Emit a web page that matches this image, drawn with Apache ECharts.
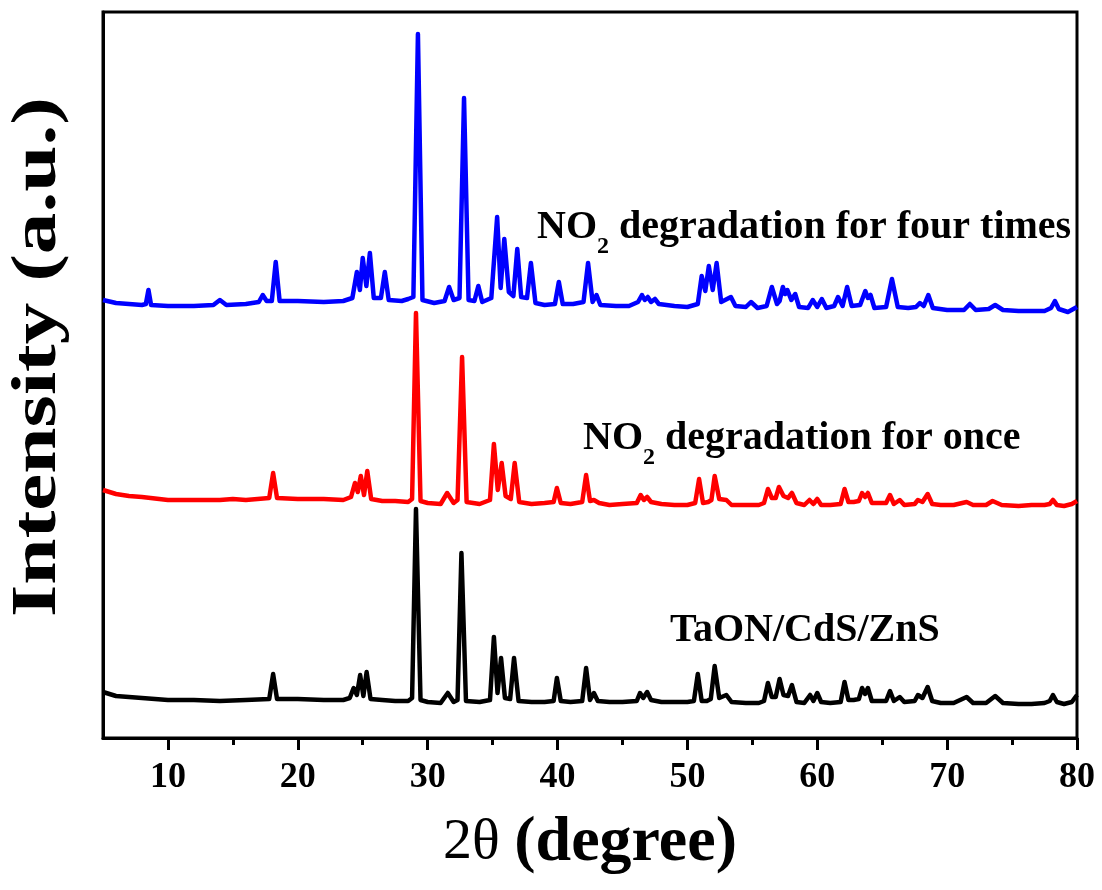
<!DOCTYPE html>
<html>
<head>
<meta charset="utf-8">
<title>XRD patterns</title>
<script src="https://cdn.jsdelivr.net/npm/echarts@6/dist/echarts.min.js"></script>
<style>
  html, body { margin: 0; padding: 0; background: #fff; }
  #chart { width: 1102px; height: 890px; }
</style>
</head>
<body>
<div id="chart"></div>
<script>
// x tick labels (2theta) and minor ticks
const xMajorTicks = [10, 20, 30, 40, 50, 60, 70, 80];
const xMinorTicks = [15, 25, 35, 45, 55, 65, 75];

// series names
const seriesNames = ['TaON/CdS/ZnS', 'NO2 degradation for once', 'NO2 degradation for four times'];

// [2theta, intensity (a.u., already offset)]
const fresh = [
  [5, 46], [6, 42], [7, 41], [8, 40], [10, 38], [12, 38], [14, 37], [16, 38], [17.8, 39],
  [18.1, 64], [18.4, 39], [20, 39], [22, 38], [23.5, 38], [24.0, 40], [24.3, 50], [24.55, 43],
  [24.8, 63], [25.05, 42], [25.3, 66], [25.6, 39], [26.5, 38], [27.5, 37], [28.5, 37], [28.8, 40],
  [29.1, 229], [29.45, 38], [30, 36], [31, 35], [31.55, 45], [32, 36], [32.3, 38], [32.6, 185],
  [32.95, 37], [34, 36], [34.8, 38], [35.1, 101], [35.38, 45], [35.65, 80], [35.95, 40], [36.35, 39],
  [36.65, 80], [37.0, 37], [38, 36], [39, 36], [39.7, 37], [39.95, 60], [40.25, 37], [41, 36],
  [41.9, 37], [42.2, 70], [42.5, 38], [42.8, 45], [43.1, 37], [44, 36], [45, 36], [46.1, 37],
  [46.35, 45], [46.6, 40], [46.9, 46], [47.2, 38], [48, 36], [49, 36], [50, 36], [50.5, 37],
  [50.8, 64], [51.1, 37], [51.5, 37], [51.8, 39], [52.1, 72], [52.45, 40], [53.0, 43], [53.4, 36],
  [54.5, 35], [55.5, 35], [55.9, 37], [56.2, 55], [56.5, 41], [56.8, 41], [57.1, 59], [57.4, 43],
  [57.75, 42], [58.05, 53], [58.4, 36], [59.0, 35], [59.45, 43], [59.7, 37], [60.0, 45], [60.3, 36],
  [61, 35], [61.8, 36], [62.1, 56], [62.4, 38], [62.8, 38], [63.2, 39], [63.45, 50], [63.68, 44],
  [63.9, 50], [64.2, 37], [65.3, 37], [65.6, 47], [65.9, 37], [66.35, 41], [66.7, 36], [67.5, 37],
  [67.75, 43], [68.1, 40], [68.5, 51], [68.85, 37], [69.5, 35], [70.5, 35], [71.5, 41], [72, 35],
  [73, 35], [73.7, 42], [74.3, 35], [75.5, 34], [76.5, 34], [77.5, 35], [77.9, 37], [78.15, 43],
  [78.45, 36], [79, 34], [79.6, 36], [80, 43]
];

const once = [
  [5, 248], [6, 244], [7, 242], [8, 241], [10, 238], [12, 238], [14, 238], [15, 239], [16, 238],
  [17.8, 240], [18.1, 265], [18.4, 240], [20, 239], [22, 239], [23.5, 238], [24.1, 241], [24.4, 255],
  [24.62, 246], [24.85, 262], [25.1, 243], [25.35, 267], [25.65, 239], [26.5, 237], [27.5, 237],
  [28.5, 236], [28.8, 239], [29.1, 425], [29.45, 237], [30, 235], [31, 234], [31.5, 245], [32, 235],
  [32.3, 238], [32.65, 381], [33, 236], [34, 234], [34.8, 238], [35.1, 294], [35.4, 248], [35.7, 275],
  [36.0, 242], [36.4, 239], [36.7, 275], [37.05, 236], [38, 234], [39, 235], [39.7, 236], [39.95, 250],
  [40.25, 235], [41, 234], [41.9, 236], [42.2, 263], [42.5, 237], [42.8, 238], [43.2, 235], [44, 233],
  [45, 234], [46.1, 235], [46.4, 243], [46.65, 238], [46.9, 241], [47.2, 236], [48, 234], [49, 233],
  [50, 233], [50.6, 235], [50.9, 259], [51.2, 235], [51.6, 236], [51.85, 238], [52.1, 262], [52.45, 239],
  [53.0, 238], [53.4, 233], [54.5, 233], [55.5, 233], [55.9, 235], [56.2, 249], [56.5, 240], [56.8, 240],
  [57.05, 251], [57.4, 242], [57.75, 240], [58.05, 245], [58.4, 235], [59.0, 233], [59.4, 238],
  [59.7, 234], [60.0, 239], [60.3, 233], [61, 233], [61.8, 234], [62.1, 249], [62.4, 236], [62.8, 236],
  [63.2, 237], [63.45, 245], [63.68, 241], [63.9, 245], [64.2, 235], [65.3, 235], [65.6, 243],
  [65.9, 234], [66.35, 238], [66.7, 233], [67.5, 234], [67.75, 238], [68.1, 236], [68.5, 244],
  [68.85, 234], [69.5, 233], [70.5, 233], [71.5, 236], [72, 233], [73, 233], [73.5, 237], [74.2, 233],
  [75.5, 232], [76.5, 233], [77.5, 233], [77.9, 234], [78.15, 238], [78.45, 233], [79, 232],
  [79.6, 234], [80, 237]
];

const fourTimes = [
  [5, 438], [6, 435], [7, 434], [8, 433], [8.3, 434], [8.5, 448], [8.7, 433], [10, 432], [12, 432],
  [13.5, 433], [14.0, 438], [14.5, 433], [16, 434], [17.0, 436], [17.3, 443], [17.6, 437], [18.0, 437],
  [18.3, 476], [18.6, 437], [20, 437], [22, 436], [23.5, 437], [24.2, 440], [24.55, 466], [24.78, 448],
  [25.0, 480], [25.28, 452], [25.55, 485], [25.85, 440], [26.4, 440], [26.7, 466], [27.0, 438], [28, 437],
  [28.5, 439], [28.9, 441], [29.25, 704], [29.6, 438], [30.5, 435], [31.3, 437], [31.65, 451], [32.0, 438],
  [32.45, 440], [32.8, 640], [33.15, 438], [33.6, 437], [33.9, 452], [34.2, 436], [34.9, 440],
  [35.35, 521], [35.62, 450], [35.9, 499], [36.25, 446], [36.6, 442], [36.9, 489], [37.2, 441],
  [37.65, 440], [37.95, 475], [38.3, 435], [39, 433], [39.8, 434], [40.1, 456], [40.4, 434], [41.2, 434],
  [42.0, 436], [42.35, 475], [42.7, 436], [43.0, 443], [43.3, 433], [44.5, 432], [45.5, 432], [46.2, 436],
  [46.5, 443], [46.72, 438], [46.95, 441], [47.2, 436], [47.5, 439], [47.8, 434], [49, 432], [50, 431],
  [50.8, 434], [51.1, 462], [51.38, 447], [51.65, 472], [51.95, 448], [52.25, 475], [52.6, 436],
  [53.35, 441], [53.7, 432], [54.5, 431], [54.9, 436], [55.4, 430], [56.1, 432], [56.5, 451], [56.9, 434],
  [57.1, 437], [57.35, 451], [57.52, 444], [57.7, 448], [58.0, 438], [58.3, 444], [58.6, 431], [59.3, 430],
  [59.65, 438], [60.0, 431], [60.35, 439], [60.7, 430], [61.3, 432], [61.6, 441], [61.95, 432],
  [62.3, 451], [62.65, 432], [63.3, 433], [63.7, 447], [63.9, 440], [64.1, 443], [64.4, 430], [65.3, 431],
  [65.75, 459], [66.2, 431], [67, 430], [67.6, 431], [67.9, 435], [68.2, 432], [68.55, 443], [68.9, 430],
  [70, 428], [71.3, 428], [71.75, 434], [72.2, 428], [73.2, 429], [73.7, 433], [74.3, 428], [75.5, 427],
  [76.5, 427], [77.5, 427], [78.0, 430], [78.3, 437], [78.6, 429], [79.3, 426], [80, 431]
];

const serif = 'Liberation Serif';

const chart = echarts.init(document.getElementById('chart'));

function line(name, data, color) {
  return {
    name: name,
    type: 'line',
    xAxisIndex: 0,
    data: data,
    showSymbol: false,
    symbol: 'none',
    lineStyle: { color: color, width: 4.5, join: 'round' },
    itemStyle: { color: color },
    z: 3
  };
}

// sample label; the "2" is pushed down with top padding to act as a subscript
function label(text, x, y) {
  return {
    type: 'text',
    x: x,
    y: y,
    style: {
      legacy: false,
      text: text,
      align: 'left',
      verticalAlign: 'top',
      fill: '#000',
      rich: {
        m: { fontSize: 40, fontWeight: 'bold', fontFamily: serif, lineHeight: 50, verticalAlign: 'middle', fill: '#000' },
        s: { fontSize: 24, fontWeight: 'bold', fontFamily: serif, padding: [38, 0, 0, 0], verticalAlign: 'middle', fill: '#000' }
      }
    }
  };
}

chart.setOption({
  animation: false,
  backgroundColor: '#fff',
  grid: {
    left: 103, right: 25, top: 12, bottom: 152,
    show: true, borderColor: '#000', borderWidth: 3, backgroundColor: '#fff'
  },
  xAxis: [
    {
      type: 'value', min: 5, max: 80, position: 'bottom',
      axisLine: { show: true, onZero: false, lineStyle: { color: '#000', width: 3 } },
      axisTick: { show: true, inside: false, length: 12, customValues: xMajorTicks, lineStyle: { color: '#000', width: 3 } },
      axisLabel: {
        customValues: xMajorTicks, margin: 22,
        fontFamily: serif, fontWeight: 'bold', fontSize: 36, color: '#000'
      },
      splitLine: { show: false }
    },
    {
      type: 'value', min: 5, max: 80, position: 'bottom',
      axisLine: { show: false, onZero: false },
      axisTick: { show: true, inside: false, length: 7, customValues: xMinorTicks, lineStyle: { color: '#000', width: 3 } },
      axisLabel: { show: false },
      splitLine: { show: false }
    }
  ],
  yAxis: {
    type: 'value', min: 0, max: 726,
    axisLine: { show: true, lineStyle: { color: '#000', width: 3 } },
    axisTick: { show: false },
    axisLabel: { show: false },
    splitLine: { show: false }
  },
  series: [
    line(seriesNames[0], fresh, '#000000'),
    line(seriesNames[1], once, '#ff0000'),
    line(seriesNames[2], fourTimes, '#0000ff')
  ],
  graphic: [
    label('{m|NO}{s|2}{m| degradation for four times}', 537, 197),
    label('{m|NO}{s|2}{m| degradation for once}', 583, 408),
    label('{m|TaON/CdS/ZnS}', 670, 606),
    {
      type: 'text',
      x: 38, y: 357,
      rotation: Math.PI / 2,
      scaleX: 1.3,
      style: {
        legacy: false,
        text: 'Intensity (a.u.)',
        font: 'bold 64px "Liberation Serif"',
        align: 'center',
        verticalAlign: 'middle',
        fill: '#000'
      }
    },
    {
      type: 'text',
      x: 590, y: 843,
      style: {
        legacy: false,
        text: '{a|2θ }{b|(degree)}',
        align: 'center',
        verticalAlign: 'middle',
        fill: '#000',
        rich: {
          a: { fontSize: 58, fontFamily: serif, fontWeight: 'normal', lineHeight: 70, fill: '#000' },
          b: { fontSize: 64, fontFamily: serif, fontWeight: 'bold', lineHeight: 70, fill: '#000' }
        }
      }
    }
  ]
});
</script>
</body>
</html>
